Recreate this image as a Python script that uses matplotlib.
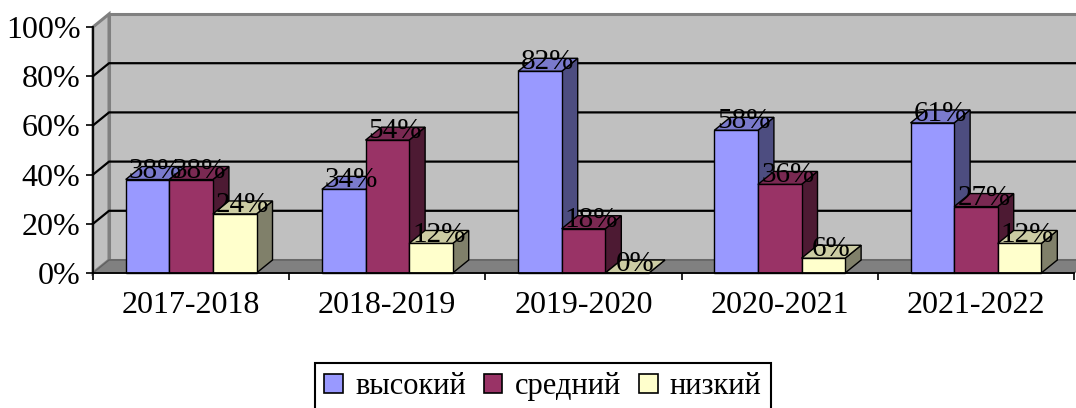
import matplotlib
matplotlib.use('Agg')
import matplotlib.pyplot as plt
from matplotlib.patches import Polygon, Patch

plt.rcParams['font.family'] = ['Liberation Serif', 'DejaVu Serif']

# ---- data ----------------------------------------------------------------
years = ['2017-2018', '2018-2019', '2019-2020', '2020-2021', '2021-2022']
series = ['высокий', 'средний', 'низкий']
high = [38, 34, 82, 58, 61]
mid = [38, 54, 18, 36, 27]
low = [24, 12, 0, 6, 12]
# --------------------------------------------------------------------------

# (front, top, side) colours per series
colors = [('#9999FF', '#7A7ACC', '#4D4D80'),
          ('#993366', '#7A2952', '#4D1A33'),
          ('#FFFFCC', '#CCCCA3', '#80806A')]

W, H = 1076, 408
fig = plt.figure(figsize=(W / 100, H / 100), dpi=100)
ax = fig.add_axes([93 / W, (H - 273) / H, 981 / W, 246 / H])
ax.set_xlim(-0.5, len(years) - 0.5)
ax.set_ylim(0, 100)
ax.patch.set_alpha(0)

# pseudo-3D depth, pixels -> data units
DX = 16 / 196
DY = 13 / 246 * 100
x0, x1 = -0.5, len(years) - 0.5

# walls and floor
ax.add_patch(Polygon([(x0, 0), (x0 + DX, DY), (x0 + DX, 100 + DY), (x0, 100)],
                     closed=True, fc='#C0C0C0', ec='#808080', lw=2.2,
                     zorder=0, clip_on=False))
ax.add_patch(Polygon([(x0 + DX, DY), (x1 + DX, DY), (x1 + DX, 100 + DY),
                      (x0 + DX, 100 + DY)],
                     closed=True, fc='#C0C0C0', ec='#808080', lw=2.2,
                     zorder=0, clip_on=False))
ax.add_patch(Polygon([(x0, 0), (x1, 0), (x1 + DX, DY), (x0 + DX, DY)],
                     closed=True, fc='#808080', ec='#606060', lw=1,
                     zorder=0.5, clip_on=False))
for v in range(20, 100, 20):
    ax.plot([x0, x0 + DX, x1 + DX], [v, v + DY, v + DY], color='black',
            lw=1.6, zorder=0.6, clip_on=False)

# bars
bw = 2 / 9
vals = [high, mid, low]
for i in range(len(years)):
    for k, data in enumerate(vals):
        v = data[i]
        left = i - 1.5 * bw + k * bw
        right = left + bw
        front, top, side = colors[k]
        z = 1 + i * 3 + k
        ax.add_patch(Polygon([(right, 0), (right + DX, DY), (right + DX, v + DY),
                              (right, v)], closed=True, fc=side, ec='black',
                             lw=1, zorder=z, clip_on=False))
        ax.add_patch(Polygon([(left, v), (right, v), (right + DX, v + DY),
                              (left + DX, v + DY)], closed=True, fc=top,
                             ec='black', lw=1, zorder=z, clip_on=False))
        ax.bar(left, v, width=bw, align='edge', color=front, edgecolor='black',
               lw=1, zorder=z, clip_on=False)
        ax.text((left + right) / 2 + DX / 2, v + DY / 2 + 1, f'{v}%',
                ha='center', va='center', fontsize=21, zorder=40)

# axes
for s in ('top', 'right'):
    ax.spines[s].set_visible(False)
for s in ('left', 'bottom'):
    ax.spines[s].set_color('black')
    ax.spines[s].set_linewidth(1.3)
    ax.spines[s].set_zorder(30)
ax.set_yticks(range(0, 101, 20))
ax.set_yticklabels([f'{v}%' for v in range(0, 101, 20)])
ax.tick_params(axis='y', length=5, width=1.2, pad=4, labelsize=23)
ax.set_xticks([i - 0.5 for i in range(len(years) + 1)])
ax.set_xticklabels([])
ax.set_xticks(range(len(years)), minor=True)
ax.set_xticklabels(years, minor=True)
ax.tick_params(axis='x', which='major', length=5, width=1.2)
ax.tick_params(axis='x', which='minor', length=0, pad=13, labelsize=23)

handles = [Patch(fc=c[0], ec='black', lw=1.2) for c in colors]
leg = fig.legend(handles, series, loc='upper center',
                 bbox_to_anchor=(543 / W, 1 - 363 / H), ncol=3,
                 frameon=True, fancybox=False, edgecolor='black',
                 framealpha=1, fontsize=22, handlelength=0.6,
                 handleheight=0.6, handletextpad=0.4, columnspacing=0.6,
                 borderpad=0.3, borderaxespad=0)
leg.get_frame().set_linewidth(1.5)

fig.savefig('out.png', dpi=100)
